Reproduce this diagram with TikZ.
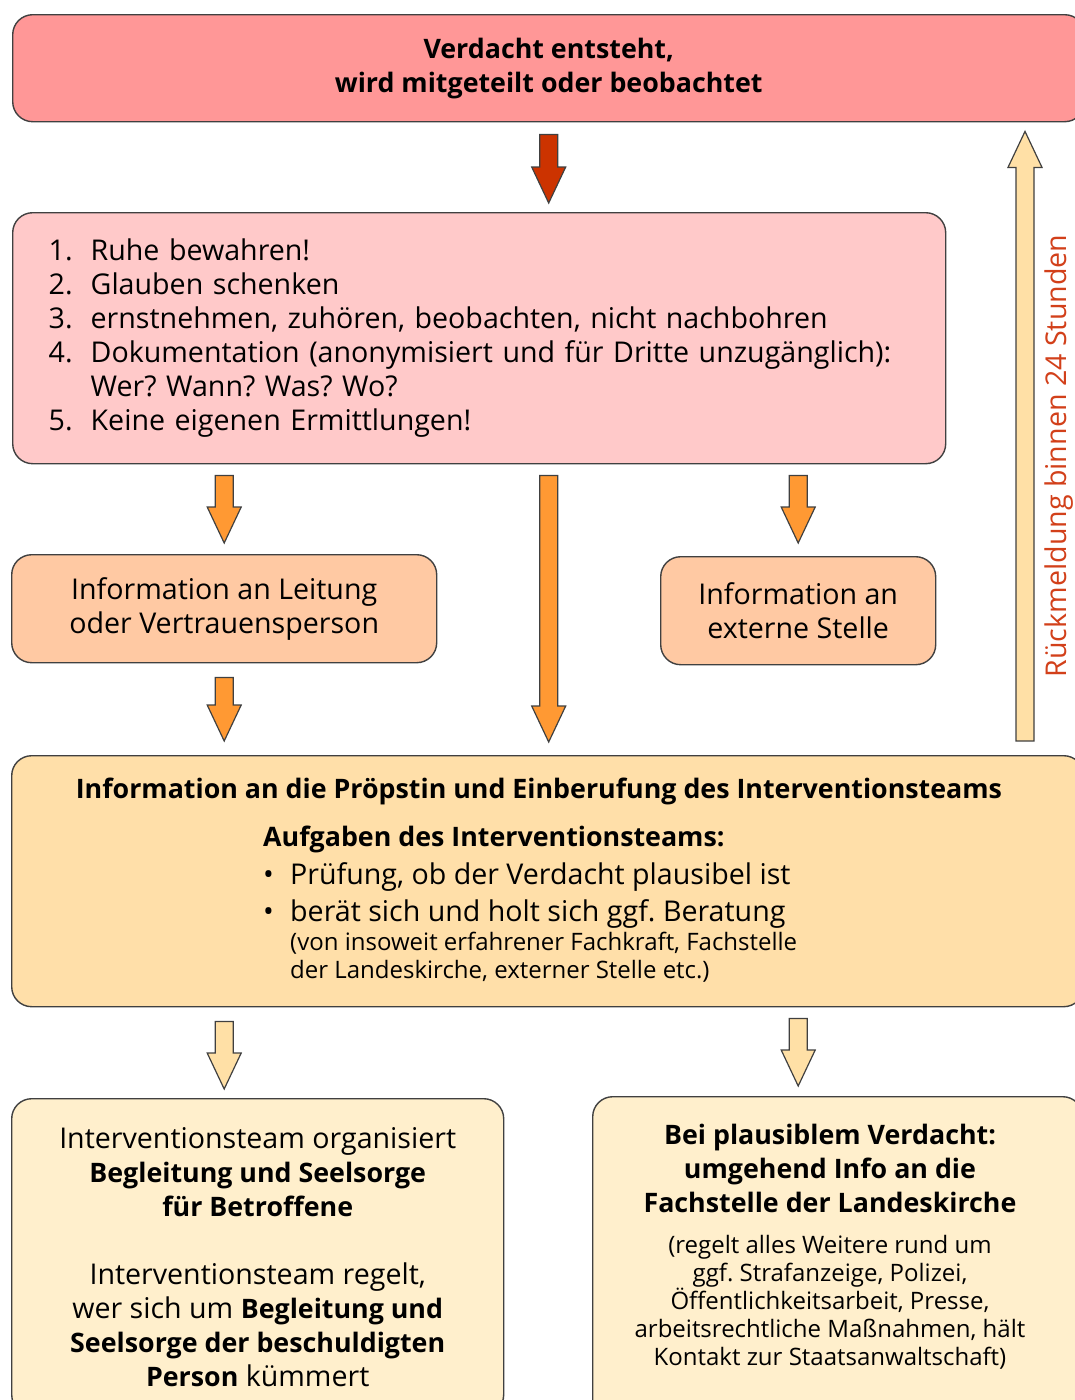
\documentclass[tikz,border=0pt]{standalone}
\usepackage{fontspec}
\setmainfont{Open Sans}
\usetikzlibrary{positioning,calc}
\frenchspacing

\definecolor{alarmrot}{HTML}{FF9797}
\definecolor{listrosa}{HTML}{FFC9C9}
\definecolor{pfirsich}{HTML}{FFC9A3}
\definecolor{teamgelb}{HTML}{FFDFA9}
\definecolor{creme}{HTML}{FFEFCC}
\definecolor{pfeilrot}{HTML}{CC3300}
\definecolor{pfeilorange}{HTML}{FF9933}
\definecolor{pfeilhell}{HTML}{FFE0A6}
\definecolor{schrift}{HTML}{D2401A}
\definecolor{rand}{HTML}{404040}

\newcommand{\grossschrift}{\fontsize{28.6}{34}\selectfont}
\newcommand{\fettschrift}{\fontsize{26.8}{34}\selectfont\bfseries}
\newcommand{\kleinschrift}{\fontsize{24}{28}\selectfont}

% Blockpfeil: Fuellfarbe, Start, Spitze
\newcommand{\blockpfeil}[3]{%
  \draw[pfeil, fill=#1] let \p1=#2, \p2=#3, \p3=($(\p2)!36pt!(\p1)$) in
    (\x1-9pt,\y1) -- (\x1+9pt,\y1) -- (\x1+9pt,\y3) -- (\x1+17pt,\y3)
    -- (\x2,\y2) -- (\x1-17pt,\y3) -- (\x1-9pt,\y3) -- cycle;}

\begin{document}
\begin{tikzpicture}[
        x=1pt, y=-1pt,
        font=\grossschrift,
        kasten/.style={draw=rand, line width=1.4pt, rounded corners=20pt, inner sep=0pt, align=center, anchor=north west},
        pfeil/.style={draw=rand, line width=1.2pt, line join=miter}
    ]
    \useasboundingbox (0,0) rectangle (1075,1400);

    \node[kasten, fill=alarmrot, minimum width=1072pt, minimum height=107pt, font=\fettschrift] (alarm) at (12,14)
        {Verdacht entsteht,\\wird mitgeteilt oder beobachtet};
    \node[kasten, fill=listrosa, minimum width=933pt, minimum height=251pt, inner xsep=36pt, text width=861pt, align=left] (liste) at (12,212)
        {\begin{tabular}{@{}p{42pt}@{}l@{}}
            1. & Ruhe bewahren!\\
            2. & Glauben schenken\\
            3. & ernstnehmen, zuhören, beobachten, nicht nachbohren\\
            4. & Dokumentation (anonymisiert und für Dritte unzugänglich):\\
               & Wer? Wann? Was? Wo?\\
            5. & Keine eigenen Ermittlungen!
         \end{tabular}};
    \node[kasten, fill=pfirsich, minimum width=425pt, minimum height=108pt] (leitung) at (11,554)
        {Information an Leitung\\oder Vertrauensperson};
    \node[kasten, fill=pfirsich, minimum width=275pt, minimum height=108pt] (extern) at (660,556)
        {Information an\\externe Stelle};

    % Interventionsteam
    \node[kasten, fill=teamgelb, minimum width=1072pt, minimum height=251pt] (team) at (11,755) {};
    \node[font=\fettschrift, inner sep=0pt] (teamtitel) at (539,791)
        {Information an die Pröpstin und Einberufung des Interventionsteams};
    \node[anchor=north west, inner sep=0pt, align=left] (aufgaben) at (263,822)
        {\begin{tabular}{@{}p{27pt}@{}l@{}}
            \multicolumn{2}{@{}l}{\fettschrift Aufgaben des Interventionsteams:}\\[4pt]
            \textbullet & Prüfung, ob der Verdacht plausibel ist\\[3pt]
            \textbullet & berät sich und holt sich ggf. Beratung\\[-5pt]
            & {\kleinschrift\begin{tabular}[t]{@{}l@{}}
                (von insoweit erfahrener Fachkraft, Fachstelle\\
                der Landeskirche, externer Stelle etc.)
              \end{tabular}}
         \end{tabular}};

    \node[kasten, fill=creme, minimum width=492pt, minimum height=316pt] (links) at (11,1098)
        {Interventionsteam organisiert\\
         {\fettschrift Begleitung und Seelsorge}\\
         {\fettschrift für Betroffene}\\[34pt]
         Interventionsteam regelt,\\
         wer sich um {\fettschrift Begleitung und}\\
         {\fettschrift Seelsorge der beschuldigten}\\
         {\fettschrift Person} kümmert};
    \node[kasten, fill=creme, minimum width=490pt, minimum height=330pt] (rechts) at (592,1096) {};
    \node[anchor=north, inner sep=0pt, text width=480pt, align=flush center] (rechtstext) at (830,1124)
        {{\fettschrift Bei plausiblem Verdacht:\\umgehend Info an die\\Fachstelle der Landeskirche\par}\vspace{13pt}
         {\kleinschrift (regelt alles Weitere rund um\\ggf. Strafanzeige, Polizei,\\Öffentlichkeitsarbeit, Presse,\\arbeitsrechtliche Maßnahmen, hält\\Kontakt zur Staatsanwaltschaft)\par}};

    % Pfeile
    \blockpfeil{pfeilrot}{($(alarm.south)+(0,12)$)}{($(liste.north -| alarm)+(0,-9)$)}
    \blockpfeil{pfeilorange}{($(liste.south -| leitung)+(0,11)$)}{($(leitung.north)+(0,-11)$)}
    \blockpfeil{pfeilorange}{($(liste.south -| alarm)+(0,11)$)}{($(team.north -| alarm)+(0,-13)$)}
    \blockpfeil{pfeilorange}{($(liste.south -| extern)+(0,11)$)}{($(extern.north)+(0,-13)$)}
    \blockpfeil{pfeilorange}{($(leitung.south)+(0,14)$)}{($(team.north -| leitung)+(0,-14)$)}
    \blockpfeil{pfeilhell}{($(team.south -| leitung)+(0,14)$)}{($(links.north -| leitung)+(0,-9)$)}
    \blockpfeil{pfeilhell}{($(team.south -| extern)+(0,11)$)}{($(rechts.north -| extern)+(0,-10)$)}

    % Rueckmeldung
    \coordinate (rueckfuss) at (1025,741);
    \blockpfeil{pfeilhell}{(rueckfuss)}{($(alarm.south -| rueckfuss)+(0,9)$)}
    \node[rotate=90, text=schrift, inner sep=0pt] (rueckmeldung) at (1059,456) {Rückmeldung binnen 24 Stunden};
\end{tikzpicture}
\end{document}
